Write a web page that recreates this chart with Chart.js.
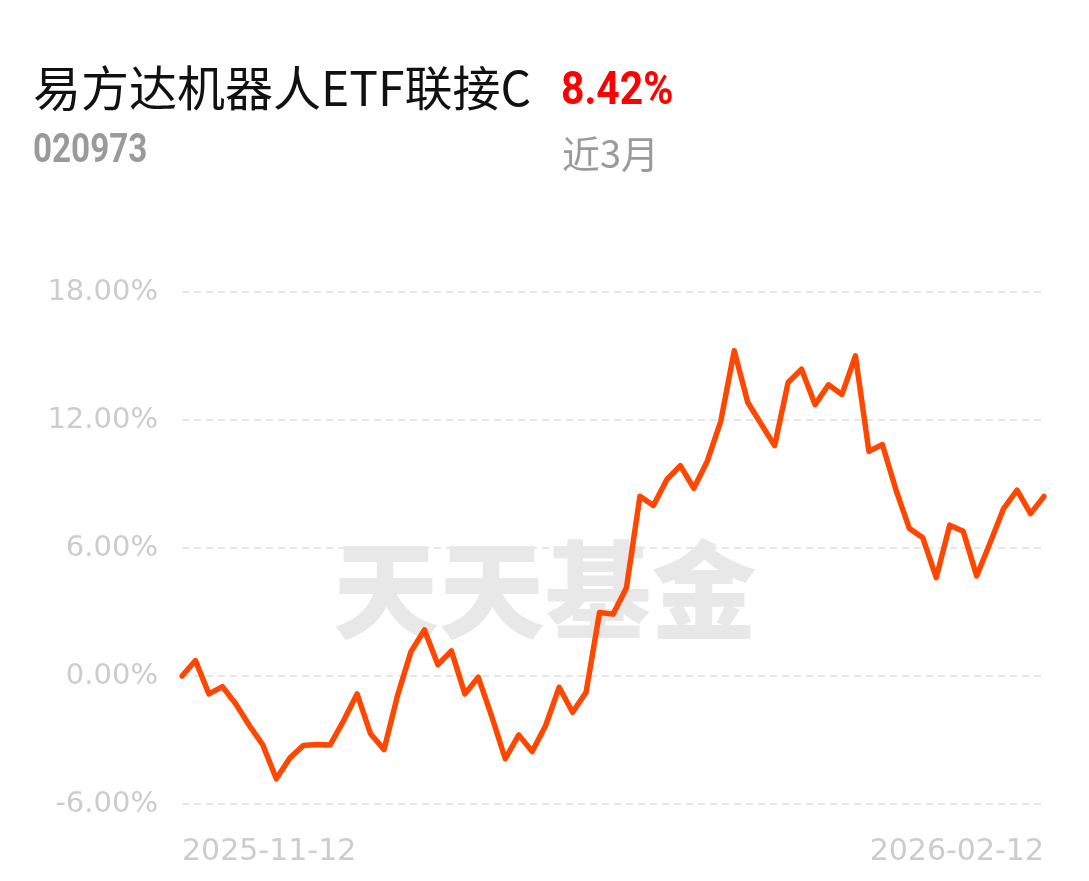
<!DOCTYPE html>
<html>
<head>
<meta charset="utf-8">
<script src="https://cdn.jsdelivr.net/npm/chart.js@4/dist/chart.umd.min.js"></script>
<style>
  body { margin: 0; background: #fff; }
  #wrap { position: relative; width: 1089px; height: 881px; overflow: hidden; }
  #wrap canvas { position: absolute; left: 0; top: 0; }
  .txt { position: absolute; white-space: nowrap; line-height: 1; transform-origin: left top; }
  #name { left: 33px; top: 50px; font: 400 48px "Noto Sans CJK SC", sans-serif; color: #111; }
  #code { left: 33px; top: 125px; font: 700 40px "Roboto", sans-serif; color: #9a9a9a; transform: scaleX(0.83); }
  #ret { left: 561px; top: 60px; font: 700 47px "Roboto", sans-serif; color: #ff0000; transform: scaleX(0.87); }
  #period { left: 562px; top: 124px; font: 400 38px "Noto Sans CJK SC", sans-serif; color: #9a9a9a; }
</style>
</head>
<body>
<div id="wrap">
  <canvas id="grafico" width="1089" height="881"></canvas>
  <div class="txt" id="name">易方达机器人ETF联接C</div>
  <div class="txt" id="code">020973</div>
  <div class="txt" id="ret">8.42%</div>
  <div class="txt" id="period">近3月</div>
</div>
<script>
// rendimiento acumulado (%) por dia de cotizacion
const rendimiento = [
  0.00, 0.72, -0.84, -0.50, -1.31, -2.32, -3.23, -4.82, -3.85, -3.26,
  -3.21, -3.23, -2.09, -0.84, -2.71, -3.45, -0.92, 1.14, 2.16, 0.53,
  1.18, -0.84, -0.06, -1.90, -3.88, -2.76, -3.54, -2.32, -0.53, -1.70,
  -0.76, 2.98, 2.90, 4.14, 8.43, 7.99, 9.21, 9.86, 8.80, 10.07,
  11.94, 15.25, 12.83, 11.81, 10.80, 13.76, 14.38, 12.72, 13.65, 13.20,
  15.01, 10.53, 10.85, 8.74, 6.92, 6.48, 4.61, 7.07, 6.79, 4.69,
  6.25, 7.85, 8.71, 7.61, 8.42
];
const fechasEje = ['2025-11-12', '2026-02-12'];
const ticksY = [-6, 0, 6, 12, 18];

const dias = rendimiento.map((_, i) => i);
const ultimo = dias.length - 1;

// marca de agua detras de la linea
const marcaAgua = {
  id: 'marcaAgua',
  beforeDatasetsDraw(chart) {
    const ctx = chart.ctx;
    ctx.save();
    ctx.font = '900 106px "Noto Sans CJK SC", sans-serif';
    ctx.fillStyle = '#e8e8e8';
    ctx.textAlign = 'center';
    ctx.textBaseline = 'middle';
    ctx.fillText('天天基金', 545, 590);
    ctx.restore();
  }
};

new Chart(document.getElementById('grafico'), {
  type: 'line',
  data: {
    labels: dias,
    datasets: [{
      data: rendimiento,
      borderColor: '#ff4700',
      borderWidth: 5.5,
      pointRadius: 0,
      tension: 0,
      borderJoinStyle: 'round',
      borderCapStyle: 'round',
      fill: false
    }]
  },
  options: {
    responsive: false,
    animation: false,
    layout: { padding: { top: 292, right: 45, left: 0, bottom: 0 } },
    plugins: { legend: { display: false }, tooltip: { enabled: false } },
    scales: {
      x: {
        type: 'category',
        offset: false,
        grid: { display: false },
        border: { display: false },
        afterFit(scale) { scale.height = 77; },
        ticks: {
          autoSkip: false,
          maxRotation: 0,
          align: 'inner',
          padding: 22,
          color: '#cccccc',
          font: { family: 'DejaVu Sans', size: 30 },
          callback: (v, i) => i === 0 ? fechasEje[0] : (i === ultimo ? fechasEje[1] : null)
        }
      },
      y: {
        min: ticksY[0],
        max: ticksY[ticksY.length - 1],
        afterFit(scale) { scale.width = 182; },
        afterBuildTicks(scale) { scale.ticks = ticksY.map(v => ({ value: v })); },
        grid: { color: '#e6e6e6', lineWidth: 2, drawTicks: false },
        border: { display: false, dash: [7, 5] },
        ticks: {
          padding: 24,
          color: '#cccccc',
          font: { family: 'DejaVu Sans', size: 29 },
          callback: v => v.toFixed(2) + '%'
        }
      }
    }
  },
  plugins: [marcaAgua]
});
</script>
</body>
</html>
